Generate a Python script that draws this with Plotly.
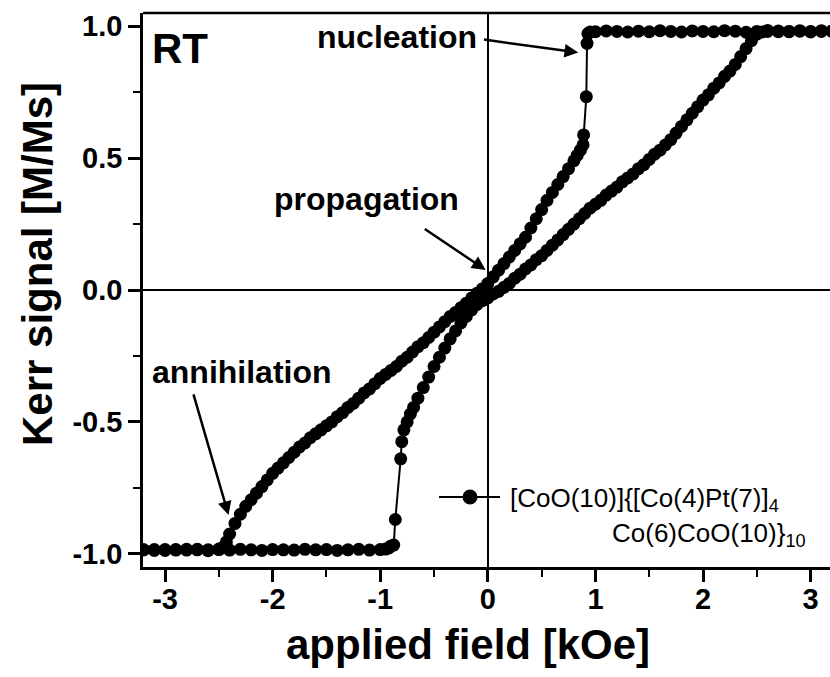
import plotly.graph_objects as go

# ---------------- data ----------------
# descending-field branch (from +saturation to -saturation)
field_down = [3.2, 3.1, 3.0, 2.9, 2.8, 2.7, 2.6, 2.5, 2.4, 2.3, 2.2, 2.1, 2.0, 1.9, 1.8, 1.7,
              1.6, 1.5, 1.4, 1.3, 1.2, 1.1, 1.0, 0.95, 0.93, 0.922, 0.915, 0.89, 0.885, 0.86,
              0.83, 0.80, 0.75, 0.70, 0.65, 0.60, 0.55, 0.50, 0.45, 0.40, 0.35, 0.30, 0.25,
              0.20, 0.15, 0.10, 0.05, 0.00, -0.05, -0.10, -0.15, -0.20, -0.25, -0.30, -0.35,
              -0.40, -0.45, -0.50, -0.55, -0.60, -0.65, -0.70, -0.75, -0.80, -0.85, -0.90,
              -0.95, -1.00, -1.05, -1.10, -1.15, -1.20, -1.25, -1.30, -1.35, -1.40, -1.45,
              -1.50, -1.55, -1.60, -1.65, -1.70, -1.75, -1.80, -1.85, -1.90, -1.95, -2.00,
              -2.05, -2.10, -2.15, -2.20, -2.25, -2.30, -2.35, -2.40, -2.43, -2.46, -2.50,
              -2.60, -2.70, -2.80, -2.90, -3.00, -3.10, -3.20]
kerr_down = [0.982, 0.980, 0.978, 0.983, 0.980, 0.979, 0.984, 0.980, 0.977, 0.981, 0.983, 0.979,
             0.980, 0.982, 0.978, 0.980, 0.983, 0.979, 0.981, 0.978, 0.980, 0.982, 0.979, 0.978,
             0.972, 0.935, 0.733, 0.588, 0.55, 0.53, 0.51, 0.49, 0.46, 0.43, 0.40, 0.37, 0.34,
             0.305, 0.27, 0.235, 0.20, 0.175, 0.15, 0.125, 0.10, 0.075, 0.05, 0.025, 0.005,
             -0.012, -0.03, -0.05, -0.067, -0.085, -0.10, -0.12, -0.14, -0.16, -0.18, -0.20,
             -0.215, -0.235, -0.255, -0.27, -0.29, -0.305, -0.32, -0.335, -0.355, -0.375,
             -0.39, -0.41, -0.43, -0.445, -0.465, -0.48, -0.50, -0.515, -0.53, -0.545, -0.56,
             -0.58, -0.595, -0.615, -0.635, -0.655, -0.675, -0.695, -0.72, -0.745, -0.77,
             -0.795, -0.82, -0.85, -0.885, -0.925, -0.955, -0.975, -0.982, -0.985, -0.983,
             -0.986, -0.984, -0.987, -0.984, -0.985]

# ascending-field branch (from -saturation to +saturation)
field_up = [-3.2, -3.1, -3.0, -2.9, -2.8, -2.7, -2.6, -2.5, -2.4, -2.3, -2.2, -2.1, -2.0, -1.9,
            -1.8, -1.7, -1.6, -1.5, -1.4, -1.3, -1.2, -1.1, -1.0, -0.95, -0.92, -0.90, -0.875,
            -0.86, -0.81, -0.80, -0.78, -0.75, -0.72, -0.69, -0.65, -0.60, -0.55, -0.50, -0.45,
            -0.40, -0.35, -0.30, -0.25, -0.20, -0.15, -0.10, -0.05, 0.00, 0.05, 0.10, 0.15,
            0.20, 0.25, 0.30, 0.35, 0.40, 0.45, 0.50, 0.55, 0.60, 0.65, 0.70, 0.75, 0.80, 0.85,
            0.90, 0.95, 1.00, 1.05, 1.10, 1.15, 1.20, 1.25, 1.30, 1.35, 1.40, 1.45, 1.50, 1.55,
            1.60, 1.65, 1.70, 1.75, 1.80, 1.85, 1.90, 1.95, 2.00, 2.05, 2.10, 2.15, 2.20, 2.25,
            2.30, 2.35, 2.40, 2.45, 2.50, 2.55, 2.60, 2.70, 2.80, 2.90, 3.00, 3.10, 3.20]
kerr_up = [-0.985, -0.987, -0.984, -0.986, -0.983, -0.985, -0.988, -0.984, -0.986, -0.983,
           -0.985, -0.987, -0.984, -0.985, -0.986, -0.983, -0.985, -0.984, -0.987, -0.985,
           -0.983, -0.986, -0.984, -0.982, -0.978, -0.97, -0.967, -0.87, -0.64, -0.575, -0.53,
           -0.50, -0.47, -0.445, -0.41, -0.37, -0.33, -0.29, -0.255, -0.22, -0.185, -0.155,
           -0.125, -0.10, -0.075, -0.055, -0.04, -0.03, -0.015, -0.005, 0.01, 0.025, 0.045,
           0.06, 0.08, 0.095, 0.115, 0.13, 0.15, 0.17, 0.19, 0.21, 0.23, 0.25, 0.27, 0.29,
           0.31, 0.325, 0.34, 0.36, 0.375, 0.39, 0.41, 0.425, 0.44, 0.46, 0.475, 0.495, 0.515,
           0.53, 0.55, 0.57, 0.595, 0.62, 0.645, 0.67, 0.695, 0.72, 0.74, 0.765, 0.785, 0.81,
           0.83, 0.855, 0.885, 0.915, 0.945, 0.97, 0.978, 0.98, 0.982, 0.979, 0.981, 0.98,
           0.983, 0.98]

x_tick_vals = [-3, -2, -1, 0, 1, 2, 3]
x_tick_text = ["-3", "-2", "-1", "0", "1", "2", "3"]
x_minor_vals = [-2.5, -1.5, -0.5, 0.5, 1.5, 2.5]
y_tick_vals = [-1.0, -0.5, 0.0, 0.5, 1.0]
y_tick_text = ["-1.0", "-0.5", "0.0", "0.5", "1.0"]
y_minor_vals = [-0.75, -0.25, 0.25, 0.75]

series_name = "[CoO(10)]{[Co(4)Pt(7)]<sub>4</sub>"
series_name2 = "Co(6)CoO(10)}<sub>10</sub>"
x_title = "applied field [kOe]"
y_title = "Kerr signal [M/Ms]"

# ---------------- layout geometry ----------------
W, H = 830, 677
ML, MR, MT, MB = 143, 0, 13, 110
PW, PH = W - ML - MR, H - MT - MB
FONT = "Liberation Sans, Arial, sans-serif"


def pxx(p):
    return (p - ML) / PW


def pxy(p):
    return (H - MB - p) / PH


fig = go.Figure()
fig.add_trace(go.Scatter(
    x=field_down + field_up, y=kerr_down + kerr_up,
    mode="lines+markers",
    line=dict(color="black", width=2),
    marker=dict(size=13, color="black"),
    showlegend=False, name=series_name,
))

tick_font = dict(family=FONT, size=29, color="black", weight="bold")
axis_common = dict(
    showgrid=False, showline=True, linecolor="black", linewidth=2.5,
    zeroline=True, zerolinecolor="black", zerolinewidth=1.5,
    ticks="outside", ticklen=12, tickwidth=2.5, tickcolor="black",
    mirror=False,
)

fig.update_xaxes(range=[-3.205, 3.18], tickmode="array", tickvals=x_tick_vals,
                 ticktext=x_tick_text, ticklabelstandoff=-8, tickfont=tick_font,
                 minor=dict(ticks="outside", ticklen=7, tickwidth=2, tickcolor="black",
                            tickmode="array", tickvals=x_minor_vals, showgrid=False),
                 **axis_common)
fig.update_yaxes(range=[-1.05, 1.05], tickmode="array", tickvals=y_tick_vals,
                 ticktext=y_tick_text, ticklabelstandoff=0, tickfont=tick_font,
                 minor=dict(ticks="outside", ticklen=7, tickwidth=2, tickcolor="black",
                            tickmode="array", tickvals=y_minor_vals, showgrid=False),
                 **axis_common)

shapes = [
    # top frame line
    dict(type="line", xref="paper", yref="paper", x0=0, x1=1, y0=1, y1=1,
         line=dict(color="black", width=2.5)),
    # legend symbol: line + marker
    dict(type="line", xref="paper", yref="paper", x0=pxx(439), x1=pxx(500),
         y0=pxy(497), y1=pxy(497), line=dict(color="black", width=2)),
    dict(type="circle", xref="paper", yref="paper", xsizemode="pixel", ysizemode="pixel",
         xanchor=pxx(470), yanchor=pxy(497), x0=-7.5, x1=7.5, y0=-7.5, y1=7.5,
         fillcolor="black", line=dict(color="black", width=0)),
]

bold = dict(family=FONT, color="black", weight="bold")
annotations = [
    dict(text="RT", x=pxx(180), y=pxy(48), xref="paper", yref="paper", showarrow=False,
         xanchor="center", yanchor="middle", font=dict(size=42, **bold)),
    dict(text="nucleation", x=pxx(397), y=pxy(37), xref="paper", yref="paper",
         showarrow=False, xanchor="center", yanchor="middle", font=dict(size=32, **bold)),
    dict(text="propagation", x=pxx(366), y=pxy(199), xref="paper", yref="paper",
         showarrow=False, xanchor="center", yanchor="middle", font=dict(size=32, **bold)),
    dict(text="annihilation", x=pxx(242), y=pxy(372), xref="paper", yref="paper",
         showarrow=False, xanchor="center", yanchor="middle", font=dict(size=32, **bold)),
    # arrows
    dict(text="", x=0.84, y=0.90, ax=-0.05, ay=0.95, xref="x", yref="y", axref="x",
         ayref="y", showarrow=True, arrowhead=2, arrowsize=1.1, arrowwidth=2.5,
         arrowcolor="black"),
    dict(text="", x=-0.02, y=0.076, ax=-0.60, ay=0.235, xref="x", yref="y", axref="x",
         ayref="y", showarrow=True, arrowhead=2, arrowsize=1.1, arrowwidth=2.5,
         arrowcolor="black"),
    dict(text="", x=-2.41, y=-0.853, ax=-2.74, ay=-0.39, xref="x", yref="y", axref="x",
         ayref="y", showarrow=True, arrowhead=2, arrowsize=1.1, arrowwidth=2.5,
         arrowcolor="black"),
    # legend text
    dict(text=series_name, x=pxx(508), y=pxy(499), xref="paper", yref="paper",
         showarrow=False, xanchor="left", yanchor="middle",
         font=dict(family=FONT, size=26, color="black")),
    dict(text=series_name2, x=pxx(808), y=pxy(534), xref="paper", yref="paper",
         showarrow=False, xanchor="right", yanchor="middle",
         font=dict(family=FONT, size=26, color="black")),
    # axis titles
    dict(text=x_title, x=pxx(468), y=pxy(644), xref="paper", yref="paper",
         showarrow=False, xanchor="center", yanchor="middle", font=dict(size=42, **bold)),
    dict(text=y_title, x=pxx(37), y=pxy(264), xref="paper", yref="paper", textangle=-90,
         showarrow=False, xanchor="center", yanchor="middle", font=dict(size=42, **bold)),
]

fig.update_layout(
    width=W, height=H, margin=dict(l=ML, r=MR, t=MT, b=MB, pad=0),
    plot_bgcolor="white", paper_bgcolor="white",
    shapes=shapes, annotations=annotations, showlegend=False,
)

fig.write_html("out.html")
